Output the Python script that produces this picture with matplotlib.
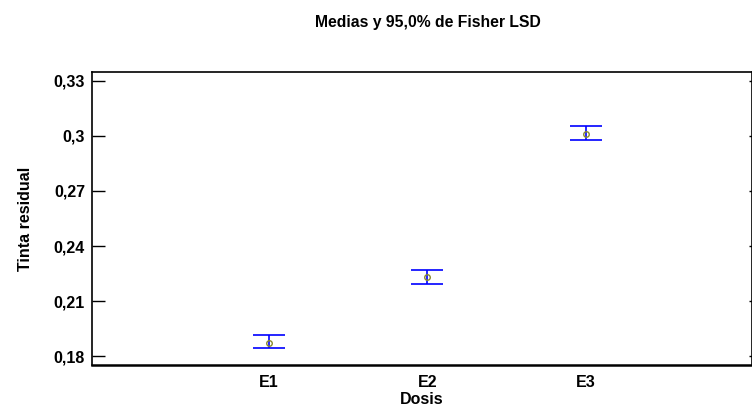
import matplotlib.pyplot as plt

plt.rcParams['font.family'] = ['Liberation Sans', 'DejaVu Sans']

# Means and 95% Fisher LSD intervals per dose
dosis = ['E1', 'E2', 'E3']
medias = [0.1873, 0.2231, 0.3013]
lim_inf = [0.1844, 0.2194, 0.2978]
lim_sup = [0.1913, 0.2267, 0.3055]
y_ticks = [0.18, 0.21, 0.24, 0.27, 0.30, 0.33]
y_tick_labels = ['0,18', '0,21', '0,24', '0,27', '0,3', '0,33']

fig = plt.figure(figsize=(7.52, 4.07), dpi=100)
ax = fig.add_axes([0.1223, 0.1032, 0.8777, 0.7199])

x = list(range(1, len(dosis) + 1))
err_low = [m - lo for m, lo in zip(medias, lim_inf)]
err_high = [hi - m for m, hi in zip(medias, lim_sup)]

ax.errorbar(x, medias, yerr=[err_low, err_high], fmt='none', ecolor='#0000ff',
            elinewidth=1.2, capsize=11.5, capthick=1.2)
ax.plot(x, medias, 'o', mfc='none', mec='#8a8a2a', ms=4, mew=1)

ax.set_xlim(-0.117, 4.05)
ax.set_ylim(0.1751, 0.3349)
ax.set_xticks(x)
ax.set_xticklabels(dosis, fontsize=11.5, fontweight='bold')
ax.set_yticks(y_ticks)
ax.set_yticklabels(y_tick_labels, fontsize=11.5, fontweight='bold')

ax.tick_params(axis='x', length=0, pad=7)
ax.tick_params(axis='y', direction='in', length=9.5, width=1, right=True, pad=5)
for t in ax.yaxis.get_major_ticks():
    t.tick2line.set_markersize(2.2)

for s in ax.spines.values():
    s.set_linewidth(1.2)
ax.spines['bottom'].set_linewidth(1.8)

ax.set_xlabel('Dosis', fontsize=11.5, fontweight='bold', labelpad=2)
ax.set_ylabel('Tinta residual', fontsize=11.5, fontweight='bold', labelpad=15)
fig.text(0.569, 0.945, 'Medias y 95,0% de Fisher LSD', ha='center', va='center',
         fontsize=11.3, fontweight='bold')

fig.savefig('out.png', dpi=100)
